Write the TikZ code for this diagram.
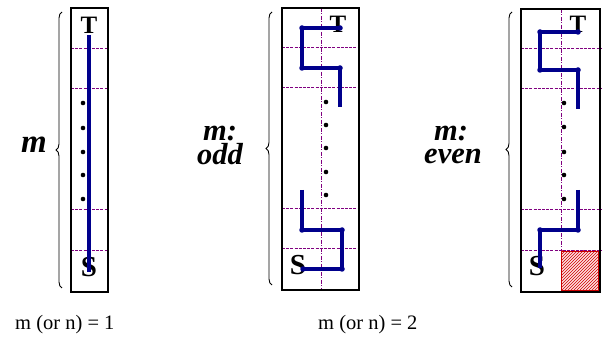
\documentclass[tikz,border=0pt]{standalone}
\usepackage{fontspec}
\setmainfont{Liberation Serif}
\usetikzlibrary{patterns,decorations.pathreplacing}
\definecolor{grid}{RGB}{128,0,128}
\definecolor{path}{RGB}{0,0,140}
\tikzset{
  frame/.style={draw=black, line width=2.7pt},
  hgrid/.style={draw=grid, line width=1pt, dash pattern=on 3pt off 1.2pt},
  vgrid/.style={draw=grid, line width=0.8pt, dash pattern=on 4pt off 1.5pt on 1pt off 1.5pt},
  route/.style={draw=path, line width=3.4pt, line join=round},
  corner/.style={circle, fill=path, inner sep=0pt, minimum size=5.5pt},
  dotmark/.style={circle, fill=black, inner sep=0pt, minimum size=4.6pt},
  letterT/.style={font=\fontsize{25}{25}\selectfont\bfseries, inner sep=0pt},
  letterS/.style={font=\fontsize{29}{29}\selectfont\bfseries, inner sep=0pt},
  side/.style={font=\fontsize{30.5}{26}\selectfont\bfseries\itshape, inner sep=0pt, anchor=base},
  caption/.style={font=\fontsize{20.5}{22}\selectfont, inner sep=0pt, anchor=west},
  bracket/.style={decorate, decoration={brace, amplitude=6pt}, line width=0.9pt}
}
\begin{document}
\begin{tikzpicture}[x=1pt,y=-1pt]
\useasboundingbox (0,0) rectangle (603,339);
% ---------- panel 1 ----------
\foreach \yy in {49,89,210,251} \draw[hgrid] (71,\yy) -- (108,\yy);
\node[letterT] (T1) at (89,25) {T};
\node[letterS] (S1) at (89,267) {S};
\coordinate (a1) at (89,35);
\coordinate (a2) at (89,272);
\draw[route] (a1) -- (a2);
\foreach \yy in {103,128,152,175,199} \node[dotmark] at (83,\yy) {};
\draw[frame] (71,8) rectangle (108,292);
\draw[bracket] (62,288) -- (62,12);
\node[side, font=\fontsize{33}{33}\selectfont\bfseries\itshape] (M1) at (34,153) {m};
% ---------- panel 2 ----------
\draw[vgrid] (321,8) -- (321,290);
\draw[vgrid] (358,8) -- (358,290);
\foreach \yy in {48,88,209,249} \draw[hgrid] (282,\yy) -- (359,\yy);
\node[letterT] (T2) at (338,24) {T};
\node[letterS] (S2) at (298,265) {S};
\coordinate (b1) at (340,28);
\coordinate (b2) at (302,28);
\coordinate (b3) at (302,68);
\coordinate (b4) at (340,68);
\coordinate (b5) at (340,107);
\draw[route] (b1) -- (b2) -- (b3) -- (b4) -- (b5);
\foreach \c in {b1,b2,b3,b4} \node[corner] at (\c) {};
\coordinate (c1) at (302,190);
\coordinate (c2) at (302,230);
\coordinate (c3) at (342,230);
\coordinate (c4) at (342,269);
\coordinate (c5) at (303,269);
\draw[route] (c1) -- (c2) -- (c3) -- (c4) -- (c5);
\foreach \c in {c2,c3,c4,c5} \node[corner] at (\c) {};
\foreach \yy in {102,125,148,172,195} \node[dotmark] at (326,\yy) {};
\draw[frame] (282,8) rectangle (359,290);
\draw[bracket] (272,285) -- (272,12);
\node[side] (M2a) at (220,141) {m:};
\node[side] (M2b) at (220,165) {odd};
% ---------- panel 3 ----------
\fill[red!12] (561,251) rectangle (598,290);
\fill[pattern=north east lines, pattern color=red!80!black] (561,251) rectangle (598,290);
\draw[vgrid] (561,9) -- (561,292);
\draw[vgrid] (599,9) -- (599,292);
\foreach \yy in {49,89,210,251} \draw[hgrid] (521,\yy) -- (601,\yy);
\draw[red!80!black, line width=0.8pt] (561,251) rectangle (598,290);
\node[letterT] (T3) at (578,24) {T};
\node[letterS] (S3) at (537,266) {S};
\coordinate (d1) at (578,32);
\coordinate (d2) at (540,32);
\coordinate (d3) at (540,70);
\coordinate (d4) at (578,70);
\coordinate (d5) at (578,109);
\draw[route] (d1) -- (d2) -- (d3) -- (d4) -- (d5);
\foreach \c in {d1,d2,d3,d4} \node[corner] at (\c) {};
\coordinate (e1) at (578,190);
\coordinate (e2) at (578,230);
\coordinate (e3) at (540,230);
\coordinate (e4) at (540,268);
\draw[route] (e1) -- (e2) -- (e3) -- (e4);
\foreach \c in {e2,e3} \node[corner] at (\c) {};
\foreach \yy in {103,127,152,175,199} \node[dotmark] at (564,\yy) {};
\draw[frame] (521,9) rectangle (600,292);
\draw[bracket] (512,287) -- (512,12);
\node[side] (M3a) at (451,141) {m:};
\node[side] (M3b) at (453,164) {even};
% ---------- captions ----------
\node[caption] (C1) at (15,325) {m (or n) = 1};
\node[caption] (C2) at (318,325) {m (or n) = 2};
\end{tikzpicture}
\end{document}
